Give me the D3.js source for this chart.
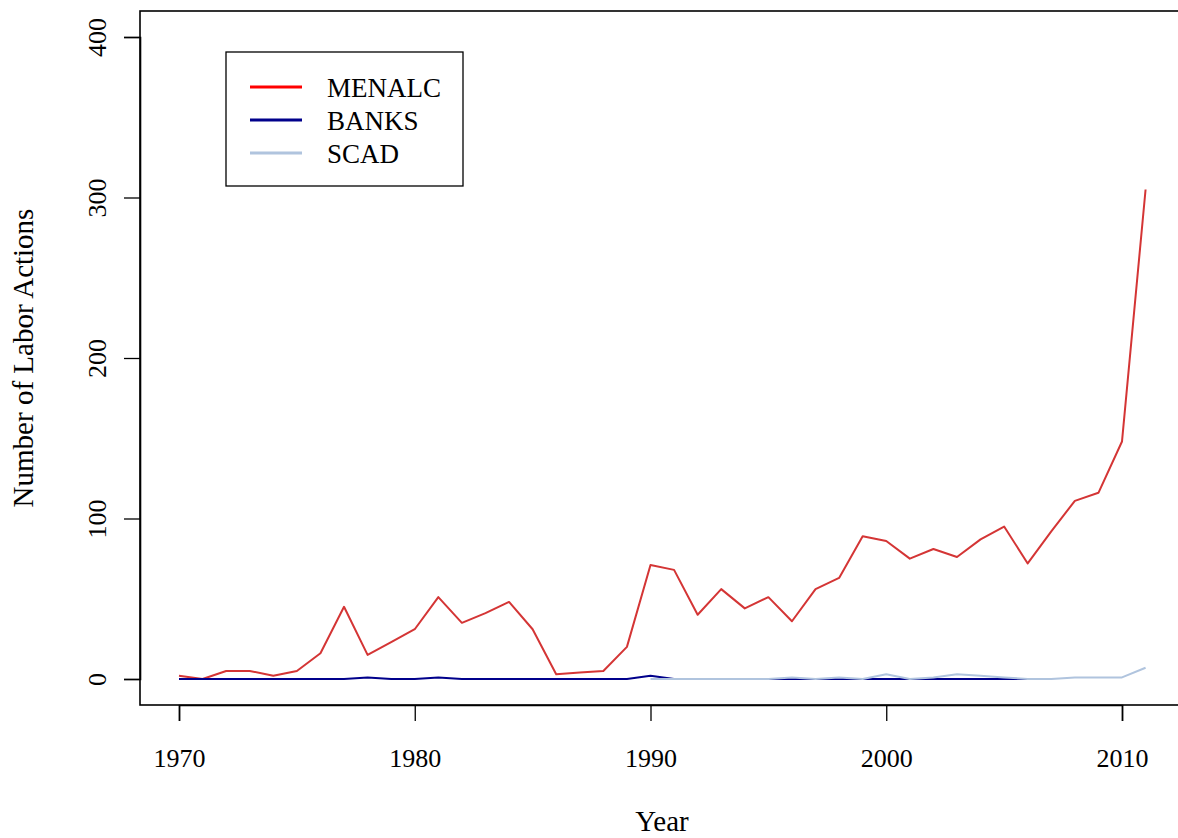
<!DOCTYPE html>
<html>
<head>
<meta charset="utf-8">
<title>Labor Actions</title>
<script src="https://d3js.org/d3.v7.min.js"></script>
<style>
body { margin: 0; background: #fff; }
text { font-family: 'Liberation Serif', 'Times New Roman', serif; fill: #000; }
.tick-label { font-size: 26px; }
.axis-title { font-size: 29px; }
.legend text { font-size: 27px; }
</style>
</head>
<body>
<svg id="chart" width="1178" height="838"></svg>
<script>

// values
var years = d3.range(1970, 2012);
var menalc = [2, 0, 5, 5, 2, 5, 16, 45, 15, 23, 31, 51, 35, 41, 48, 31, 3, 4, 5, 20,
              71, 68, 40, 56, 44, 51, 36, 56, 63, 89, 86, 75, 81, 76, 87, 95, 72, 92, 111, 116, 148, 305];
var banksYears = d3.range(1970, 2007);
var banks = [0, 0, 0, 0, 0, 0, 0, 0, 1, 0, 0, 1, 0, 0, 0, 0, 0, 0, 0, 0,
             2, 0, 0, 0, 0, 0, 0, 0, 0, 0, 0, 0, 0, 0, 0, 0, 0];
var scadYears = d3.range(1990, 2012);
var scad = [0, 0, 0, 0, 0, 0, 1, 0, 1, 0, 3, 0, 1, 3, 2, 1, 0, 0, 1, 1, 1, 7];
var xTicks = [1970, 1980, 1990, 2000, 2010];
var yTicks = [0, 100, 200, 300, 400];
var seriesNames = ["MENALC", "BANKS", "SCAD"];
var lineColors = ["#d43535", "#00008b", "#b0c4de"];
var legendColors = ["#ff0000", "#00008b", "#b0c4de"];

var svg = d3.select("#chart");

// plot region (R style, box runs off the right edge)
var box = {left: 140, top: 11, right: 1184, bottom: 705};

var x = d3.scaleLinear()
    .domain([1970, 2010])
    .range([179, 1122]);

var y = d3.scaleLinear()
    .domain([0, 400])
    .range([679, 37]);

var line = d3.line()
    .x(function(d) { return x(d[0]); })
    .y(function(d) { return y(d[1]); });

var series = [
  d3.zip(years, menalc),
  d3.zip(banksYears, banks),
  d3.zip(scadYears, scad)
];

svg.selectAll("path.series")
  .data(series)
  .enter().append("path")
    .attr("class", "series")
    .attr("fill", "none")
    .attr("stroke", function(d, i) { return lineColors[i]; })
    .attr("stroke-width", 2)
    .attr("stroke-linejoin", "round")
    .attr("d", line);

// frame
svg.append("rect")
    .attr("x", box.left)
    .attr("y", box.top)
    .attr("width", box.right - box.left)
    .attr("height", box.bottom - box.top)
    .attr("fill", "none")
    .attr("stroke", "#000")
    .attr("stroke-width", 1.6);

// x axis
var xAxis = svg.append("g")
    .attr("transform", "translate(0," + box.bottom + ")")
    .call(d3.axisBottom(x).tickValues(xTicks).tickFormat(d3.format("d")).tickSize(16).tickPadding(28));
xAxis.select(".domain").attr("stroke-width", 1.6);
xAxis.selectAll(".tick line").attr("stroke-width", 1.3);
xAxis.selectAll(".tick text").attr("class", "tick-label").attr("fill", "#000");

// y axis, labels parallel to the axis like R
var yAxis = svg.append("g")
    .attr("transform", "translate(" + box.left + ",0)")
    .call(d3.axisLeft(y).tickValues(yTicks).tickSize(16).tickPadding(0));
yAxis.select(".domain").attr("stroke-width", 1.6);
yAxis.selectAll(".tick line").attr("stroke-width", 1.3);
yAxis.selectAll(".tick text")
    .attr("class", "tick-label")
    .attr("fill", "#000")
    .attr("x", null)
    .attr("dy", null)
    .attr("transform", "translate(-34,0) rotate(-90)")
    .attr("text-anchor", "middle");

// axis titles
svg.append("text")
    .attr("class", "axis-title")
    .attr("x", (box.left + box.right) / 2)
    .attr("y", 831)
    .attr("text-anchor", "middle")
    .text("Year");

svg.append("text")
    .attr("class", "axis-title")
    .attr("transform", "translate(33," + ((box.top + box.bottom) / 2) + ") rotate(-90)")
    .attr("text-anchor", "middle")
    .text("Number of Labor Actions");

// legend
var legend = svg.append("g").attr("class", "legend");

legend.append("rect")
    .attr("x", 226)
    .attr("y", 52)
    .attr("width", 237)
    .attr("height", 134)
    .attr("fill", "#fff")
    .attr("stroke", "#000")
    .attr("stroke-width", 1.3);

var item = legend.selectAll("g.item")
    .data(seriesNames)
  .enter().append("g")
    .attr("class", "item")
    .attr("transform", function(d, i) { return "translate(0," + (87 + i * 33) + ")"; });

item.append("line")
    .attr("x1", 250)
    .attr("x2", 302)
    .attr("stroke", function(d, i) { return legendColors[i]; })
    .attr("stroke-width", 3);

item.append("text")
    .attr("x", 327)
    .attr("y", 9.5)
    .text(function(d) { return d; });

</script>
</body>
</html>
